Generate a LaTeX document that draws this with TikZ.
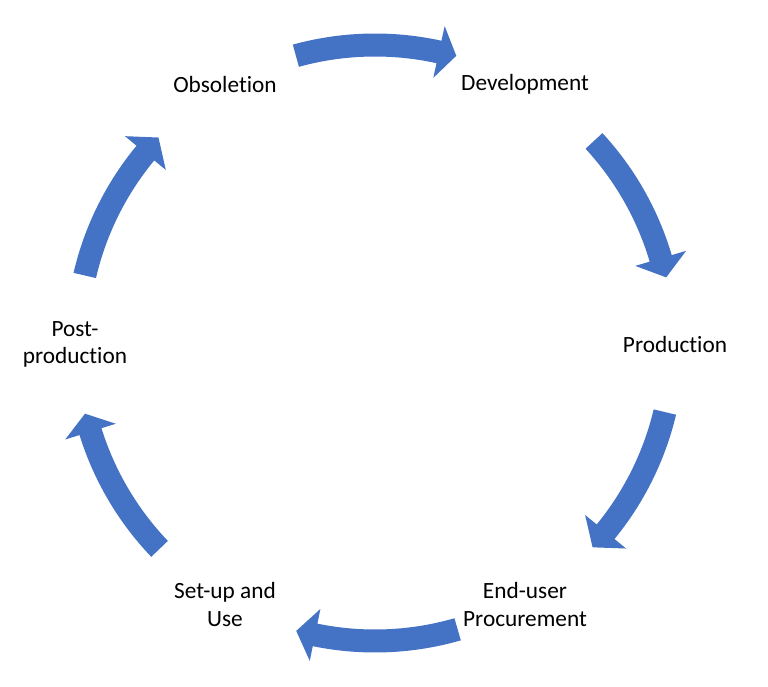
\documentclass[tikz,border=0pt]{standalone}
\usepackage{fontspec}
\setmainfont{Carlito}[Ligatures={NoCommon}]
\definecolor{arrowblue}{HTML}{4472C4}
\tikzset{
  cyclabel/.style={align=center, font=\fontsize{23.3}{27.6}\selectfont, text=black, inner sep=0pt, yshift=-1.5pt},
  cycarrow/.style={fill=arrowblue, draw=none}
}
% #1 tail angle, #2 head base angle, #3 tip angle
\newcommand{\cycArrow}[3]{%
  \fill[cycarrow] (#1:309.5) arc[start angle=#1, end angle=#2, radius=309.5]
    -- (#2:324.5) -- (#3:298.5) -- (#2:271.5) -- (#2:286.5)
    arc[start angle=#2, end angle=#1, radius=286.5] -- cycle;}
\begin{document}
\begin{tikzpicture}[x=1pt,y=1pt]
\useasboundingbox (-375,-343) rectangle (393,343);
\node[cyclabel] (dev) at (60:300) {Development};
\node[cyclabel] (prod) at (0:300) {Production};
\node[cyclabel] (proc) at (-60:300) {End-user\\Procurement};
\node[cyclabel] (setup) at (-120:300) {Set-up and\\Use};
\node[cyclabel] (post) at (180:300) {Post-\\production};
\node[cyclabel] (obs) at (120:300) {Obsoletion};
\cycArrow{105.4}{77.6}{74.2}
\cycArrow{42.7}{16.5}{12.7}
\cycArrow{-13.4}{-39.3}{-43.2}
\cycArrow{-73.9}{-101.6}{-105.3}
\cycArrow{-136.3}{-162.7}{-166.3}
\cycArrow{166.9}{140.4}{136.5}
\end{tikzpicture}
\end{document}
